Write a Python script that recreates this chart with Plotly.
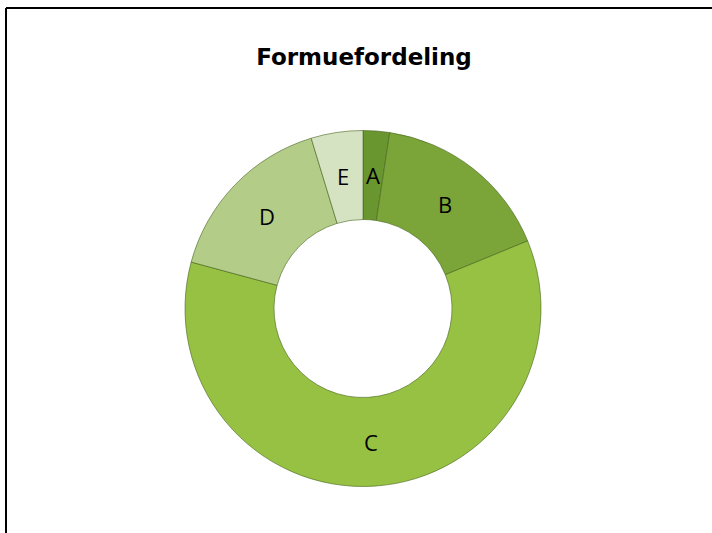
import math
import plotly.graph_objects as go

labels = ["A", "B", "C", "D", "E"]
values = [2.4, 16.4, 60.4, 16.1, 4.7]
colors = ["#6a9630", "#7ba538", "#96c142", "#b3cd88", "#d6e3c3"]
title_text = "Formuefordeling"

W, H = 712, 533
cx, cy, r = 363, 308.5, 178
hole = 0.5

fig = go.Figure(go.Pie(
    labels=labels,
    values=values,
    hole=hole,
    sort=False,
    direction="clockwise",
    rotation=0,
    textinfo="none",
    hoverinfo="label+percent",
    marker=dict(colors=colors, line=dict(color="rgba(70,100,30,0.6)", width=1)),
    showlegend=False,
    domain=dict(x=[(cx - r) / W, (cx + r) / W],
                y=[(H - cy - r) / H, (H - cy + r) / H]),
))

# slice labels at mid-angle, mid-radius (derived from the data)
total = sum(values)
rm = r * (1 + hole) / 2
annotations = []
cum = 0.0
for lab, v in zip(labels, values):
    mid = (cum + v / 2) / total * 2 * math.pi
    cum += v
    px = cx + rm * math.sin(mid)
    py = cy - rm * math.cos(mid)
    annotations.append(dict(
        x=px / W, y=1 - py / H, xref="paper", yref="paper",
        text=lab, showarrow=False, xanchor="center", yanchor="middle",
        font=dict(family="Open Sans", size=22, color="black"),
    ))

fig.update_layout(
    width=W, height=H,
    margin=dict(l=0, r=0, t=0, b=0),
    paper_bgcolor="white",
    plot_bgcolor="white",
    annotations=annotations,
    title=dict(text="<b>" + title_text + "</b>", x=364 / W, xanchor="center",
               y=1 - 57 / H, yanchor="middle",
               font=dict(family="DejaVu Sans", size=23, color="black")),
    shapes=[
        dict(type="line", xref="paper", yref="paper", x0=6 / W, x1=1, y0=1 - 8 / H, y1=1 - 8 / H,
             line=dict(color="black", width=2)),
        dict(type="line", xref="paper", yref="paper", x0=6 / W, x1=6 / W, y0=0, y1=1 - 8 / H,
             line=dict(color="black", width=2)),
    ],
)

fig.write_html("out.html", config={"displayModeBar": False},
               post_script="document.body.style.margin='0';")
